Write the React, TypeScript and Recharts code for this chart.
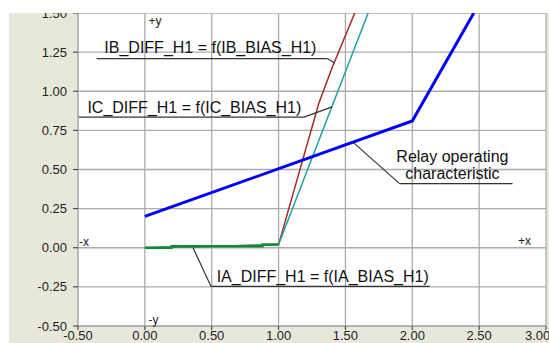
import { LineChart, Line, XAxis, YAxis, CartesianGrid, ReferenceLine, ReferenceDot } from 'recharts'

// series values
const relayX = [0, 2.0, 2.46]
const relayY = [0.2, 0.81, 1.5]
const ibX = [0, 1.0, 1.3, 1.4, 1.57]
const ibY = [0, 0.02, 0.92, 1.15, 1.5]
const icX = [0, 1.0, 1.67]
const icY = [0, 0.02, 1.5]
const iaX = [0, 0.2, 0.2, 0.88, 0.88, 1.0]
const iaY = [0, 0, 0.01, 0.01, 0.02, 0.02]

const xTicks = [-0.5, 0, 0.5, 1, 1.5, 2, 2.5, 3]
const yTicks = [-0.5, -0.25, 0, 0.25, 0.5, 0.75, 1, 1.25, 1.5]

const toPts = (xs: number[], ys: number[]) => xs.map((x, i) => ({ x, y: ys[i] }))

const relay = toPts(relayX, relayY)
const ib = toPts(ibX, ibY)
const ic = toPts(icX, icY)
const ia = toPts(iaX, iaY)

// annotations: text + underline + leader, in data units
const notes = [
  { text: ['IB_DIFF_H1 = f(IB_BIAS_H1)'], tx: 0.49, ty: [1.28], ux: [-0.36, 1.365], uy: 1.209, lead: { x: 1.42, y: 1.18 }, leadFrom: 1.365 },
  { text: ['IC_DIFF_H1 = f(IC_BIAS_H1)'], tx: 0.37, ty: [0.9], ux: [-0.495, 1.19], uy: 0.835, lead: { x: 1.4, y: 0.9 }, leadFrom: 1.19 },
  { text: ['Relay operating', 'characteristic'], tx: 2.3, ty: [0.584, 0.475], ux: [1.905, 2.75], uy: 0.41, lead: { x: 1.56, y: 0.672 }, leadFrom: 1.905 },
  { text: ['IA_DIFF_H1 = f(IA_BIAS_H1)'], tx: 1.33, ty: [-0.18], ux: [0.495, 2.13], uy: -0.247, lead: { x: 0.36, y: 0 }, leadFrom: 0.495 },
]

const quadLabels = [
  { t: '+y', x: 0.075, y: 1.45 },
  { t: '-y', x: 0.065, y: -0.46 },
  { t: '-x', x: -0.455, y: 0.037 },
  { t: '+x', x: 2.84, y: 0.043 },
]

const font = 'Liberation Sans, Arial, sans-serif'

export default function App() {
  return (
    <div style={{ position: 'absolute', left: 0, top: 0, width: 549, height: 343, background: '#fff', overflow: 'hidden' }}>
      <div style={{ position: 'absolute', left: 9, top: 13, right: 0, bottom: 0, background: '#e8e8da' }} />
      <div style={{ position: 'absolute', left: 0, top: 0 }}>
        <LineChart width={549} height={343} margin={{ top: 13, right: 3, bottom: 0, left: 0 }}>
          <CartesianGrid fill="#fff" stroke="#acacac" strokeWidth={1.3} />
          <XAxis
            type="number"
            dataKey="x"
            domain={[-0.5, 3]}
            ticks={xTicks}
            allowDataOverflow
            height={17}
            tickSize={4}
            tickMargin={1}
            tickFormatter={(v) => v.toFixed(2)}
            tick={{ fontSize: 13, fill: '#222', fontFamily: font }}
            axisLine={{ stroke: '#a8a8a8' }}
            tickLine={{ stroke: '#333' }}
          />
          <YAxis
            type="number"
            dataKey="y"
            domain={[-0.5, 1.5]}
            ticks={yTicks}
            allowDataOverflow
            width={78}
            tickSize={5}
            tickMargin={6}
            tickFormatter={(v) => v.toFixed(2)}
            tick={{ fontSize: 13, fill: '#222', fontFamily: font }}
            axisLine={{ stroke: '#a8a8b8' }}
            tickLine={{ stroke: '#333' }}
          />
          <Line data={ib} dataKey="y" stroke="#a52a2a" strokeWidth={1.5} dot={false} isAnimationActive={false} />
          <Line data={ic} dataKey="y" stroke="#20a0a0" strokeWidth={1.5} dot={false} isAnimationActive={false} />
          <Line data={relay} dataKey="y" stroke="#0000ff" strokeWidth={3} dot={false} isAnimationActive={false} />
          <Line data={ia} dataKey="y" stroke="#108a30" strokeWidth={2.5} dot={false} isAnimationActive={false} />
          {notes.map((n, i) => (
            <ReferenceLine
              key={'u' + i}
              segment={[{ x: n.ux[0], y: n.uy }, { x: n.ux[1], y: n.uy }]}
              stroke="#333"
              strokeWidth={1.2}
            />
          ))}
          {notes.map((n, i) => (
            <ReferenceLine
              key={'l' + i}
              segment={[{ x: n.leadFrom, y: n.uy }, n.lead]}
              stroke="#333"
              strokeWidth={1.2}
            />
          ))}
          {notes.flatMap((n, i) =>
            n.text.map((t, j) => (
              <ReferenceDot
                key={'t' + i + '-' + j}
                x={n.tx}
                y={n.ty[j]}
                r={0}
                fill="none"
                stroke="none"
                label={{ value: t, position: 'center', fontSize: 16, fill: '#111', fontFamily: font }}
              />
            ))
          )}
          {quadLabels.map((q) => (
            <ReferenceDot
              key={q.t}
              x={q.x}
              y={q.y}
              r={0}
              fill="none"
              stroke="none"
              label={{ value: q.t, position: 'center', fontSize: 12, fill: '#222', fontFamily: font }}
            />
          ))}
        </LineChart>
      </div>
      <div style={{ position: 'absolute', left: 0, top: 0, width: 549, height: 13, background: '#fff' }} />
    </div>
  )
}
